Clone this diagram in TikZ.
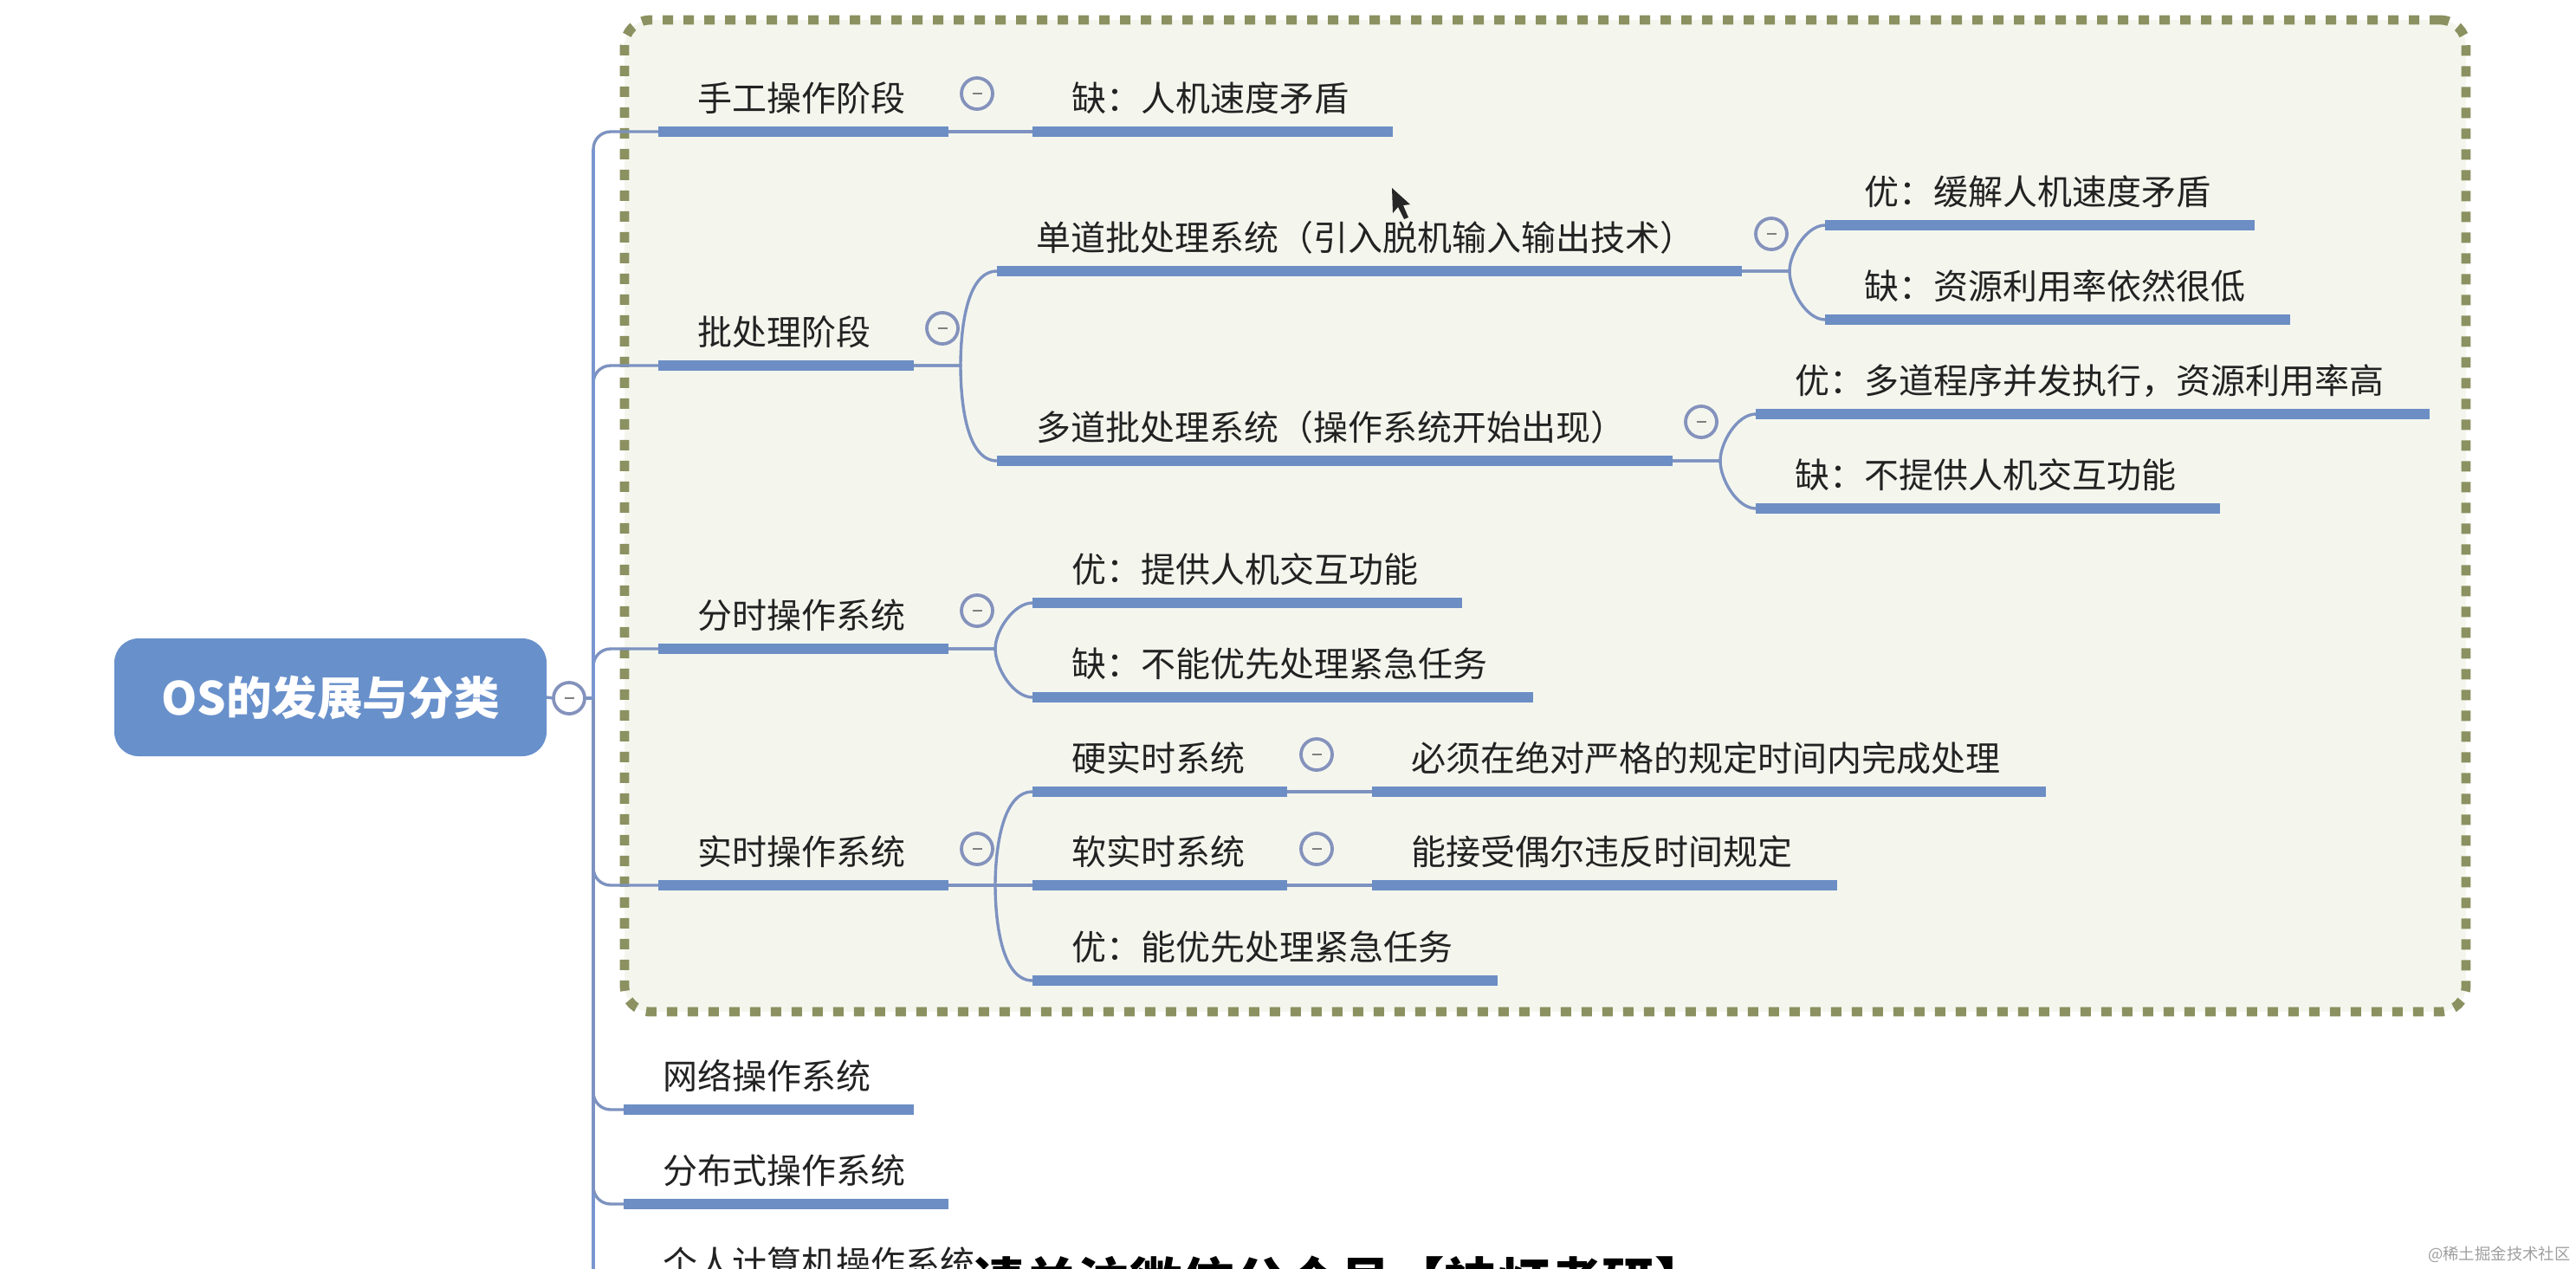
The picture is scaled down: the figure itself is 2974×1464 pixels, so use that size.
\documentclass[tikz,border=0pt]{standalone}
\usepackage{fontspec}
\setmainfont{Noto Sans CJK SC}
\definecolor{barblue}{RGB}{108,142,196}
\definecolor{rootblue}{RGB}{104,144,203}
\definecolor{linkblue}{RGB}{125,146,192}
\definecolor{trunkblue}{RGB}{122,150,208}
\definecolor{olivedash}{RGB}{139,145,96}
\definecolor{groupfill}{RGB}{244,246,238}
\definecolor{inktext}{RGB}{34,34,34}
\definecolor{foldline}{RGB}{132,146,188}
\tikzset{
  x=0.5pt,y=0.5pt,
  barbox/.style={rectangle,fill=barblue,draw=none,anchor=west,inner sep=0pt,outer sep=0pt,minimum height=6pt},
  toptext/.style={anchor=west,inner sep=0pt,outer sep=0pt,text=inktext,font=\fontsize{20}{24}\selectfont,text height=17pt,text depth=3pt},
  link/.style={draw=linkblue,line width=1.7pt},
  trunkline/.style={draw=trunkblue,line width=1.9pt},
  foldbox/.style={circle,draw=foldline,fill=groupfill,line width=1.9pt,inner sep=0pt,outer sep=0pt,minimum size=18pt},
  groupbox/.style={rectangle,rounded corners=15pt,draw=olivedash,fill=groupfill,line width=5.4pt,dash pattern=on 6pt off 6pt,inner sep=0pt,outer sep=0pt},
  rootbox/.style={rectangle,rounded corners=14pt,fill=rootblue,draw=none,inner sep=0pt,outer sep=0pt,text=white,font=\fontsize{26.3}{31}\selectfont\bfseries},
}
\newcommand{\topic}[5]{%
  \node[barbox,minimum width={(#3-#2)*0.5pt}] (#1) at (#2,-#4) {};
  \node[toptext] (#1t) at (#2+45,-#4+38) {#5};
}
\newcommand{\fold}[3]{%
  \node[foldbox] (#1) at (#2,-#3) {\textcolor{gray}{\rule{5.5pt}{1.2pt}}};
}
\newcommand{\branchup}[3]{%
  \draw[link] (#1.east) -- ++(#3,0) to[out=90,in=180,looseness=0.8] (#2.west);
}
\newcommand{\branchdown}[3]{%
  \draw[link] (#1.east) -- ++(#3,0) to[out=-90,in=180,looseness=0.8] (#2.west);
}
\begin{document}
\begin{tikzpicture}
\path[use as bounding box] (0,0) rectangle (2974,-1464);
\clip (0,0) rectangle (2974,-1464);
% group frame
\node[groupbox,anchor=north west,minimum width=1063pt,minimum height=572.5pt] (group) at (721,-23) {};
% root
\node[rootbox,minimum width=249.5pt,minimum height=68pt] (root) at (381.5,-805) {\raisebox{-1.5pt}{OS的发展与分类}};
\node[foldbox,fill=white] (rootfold) at (657,-806) {\textcolor{gray}{\rule{5.5pt}{1.2pt}}};
\coordinate (trunk) at (685,-806);
\coordinate (trunkend) at (685,-1470);
% first level
\topic{manual}{760}{1095}{152}{手工操作阶段}
\topic{batch}{760}{1055}{422}{批处理阶段}
\topic{share}{760}{1095}{749}{分时操作系统}
\topic{realtime}{760}{1095}{1022}{实时操作系统}
\topic{net}{720}{1055}{1281}{网络操作系统}
\topic{dist}{720}{1095}{1390}{分布式操作系统}
\node[toptext] (pc) at (765,-1459) {个人计算机操作系统};
% second level
\topic{manualcon}{1192}{1608}{152}{缺：人机速度矛盾}
\topic{single}{1151}{2011}{313}{单道批处理系统（引入脱机输入输出技术）}
\topic{multi}{1151}{1931}{532}{多道批处理系统（操作系统开始出现）}
\topic{sharepro}{1192}{1688}{696}{优：提供人机交互功能}
\topic{sharecon}{1192}{1770}{805}{缺：不能优先处理紧急任务}
\topic{hard}{1192}{1486}{914}{硬实时系统}
\topic{soft}{1192}{1486}{1022}{软实时系统}
\topic{rtpro}{1192}{1729}{1132}{优：能优先处理紧急任务}
% third level
\topic{singlepro}{2107}{2603}{260}{优：缓解人机速度矛盾}
\topic{singlecon}{2107}{2644}{369}{缺：资源利用率依然很低}
\topic{multipro}{2027}{2805}{478}{优：多道程序并发执行，资源利用率高}
\topic{multicon}{2027}{2563}{587}{缺：不提供人机交互功能}
\topic{hardnote}{1584}{2362}{914}{必须在绝对严格的规定时间内完成处理}
\topic{softnote}{1584}{2121}{1022}{能接受偶尔违反时间规定}
% folds
\fold{foldmanual}{1128}{108}
\fold{foldbatch}{1088}{379}
\fold{foldsingle}{2045}{270}
\fold{foldmulti}{1964}{487}
\fold{foldshare}{1128}{705}
\fold{foldrt}{1128}{980}
\fold{foldhard}{1520}{871}
\fold{foldsoft}{1520}{980}
% connectors
\draw[link] (root.east) -- (rootfold.west);
\draw[link] (rootfold.east) -- (trunk);
\draw[trunkline] (trunk) -- (trunkend);
\foreach \t in {manual,batch,share}{\draw[link,rounded corners=10pt] (trunk) |- (\t.west);}
\foreach \t in {realtime,net,dist}{\draw[link,rounded corners=10pt] (trunk) |- (\t.west);}
\draw[trunkline] (trunk) -- (685,-172);
\draw[link] (manual.east) -- (manualcon.west);
\branchup{batch}{single}{54}
\branchdown{batch}{multi}{54}
\branchup{single}{singlepro}{55}
\branchdown{single}{singlecon}{55}
\branchup{multi}{multipro}{55}
\branchdown{multi}{multicon}{55}
\branchup{share}{sharepro}{54}
\branchdown{share}{sharecon}{54}
\branchup{realtime}{hard}{54}
\draw[link] (realtime.east) -- (soft.west);
\branchdown{realtime}{rtpro}{54}
\draw[link] (hard.east) -- (hardnote.west);
\draw[link] (soft.east) -- (softnote.west);
% mouse pointer
\fill[black!85] (1607,-217) -- (1608,-246) -- (1614,-239) -- (1621,-253) -- (1626,-251) -- (1620,-237) -- (1628,-236) -- cycle;
% overlaid caption and watermark
\node[anchor=west,inner sep=0pt,text=black,font=\fontsize{30.3}{35}\selectfont\bfseries,text height=26pt,text depth=4pt] (caption) at (1122,-1480) {请关注微信公众号【神灯考研】};
\node[anchor=east,inner sep=0pt,text=black!38,font=\fontsize{9.2}{11}\selectfont] (mark) at (2968,-1448) {@稀土掘金技术社区};
\end{tikzpicture}
\end{document}
